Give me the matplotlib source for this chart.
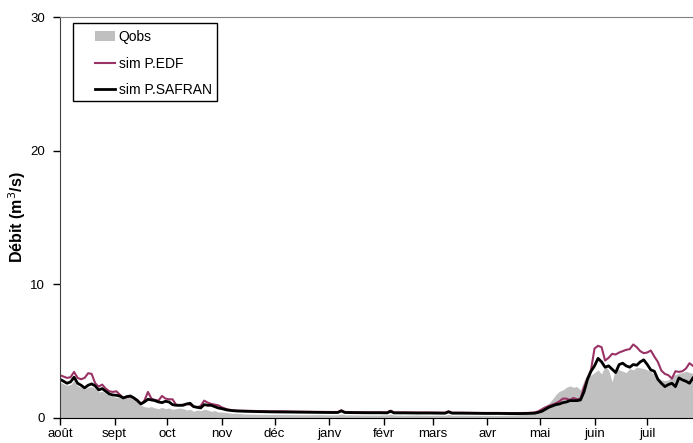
import numpy as np
import matplotlib.pyplot as plt
from matplotlib.patches import Patch, Rectangle
from matplotlib.lines import Line2D

plt.rcParams['font.family'] = ['Liberation Sans', 'DejaVu Sans']

# days counted from 1 August
days = [0, 2, 4, 6, 8, 10, 12, 14, 16, 18, 20, 22, 24, 26, 28, 30, 32, 34, 36, 38,
        40, 42, 44, 46, 48, 50, 52, 54, 56, 58, 60, 62, 64, 66, 68, 70, 72, 74, 76, 78,
        80, 82, 84, 86, 88, 90, 92, 95, 98, 101, 105,
        112, 119, 126, 133, 140, 147, 154, 158, 160, 162, 168, 175, 182, 186, 188, 190,
        196, 203, 210, 217, 219, 221, 223, 228, 235, 242, 249, 256, 262, 266, 270,
        272, 274, 276, 278, 280, 282, 284, 286, 288, 290, 292, 294, 296, 298, 300, 302,
        304, 306, 308, 310, 312, 314, 316, 318, 320, 322, 324, 326, 328, 330, 332, 334,
        336, 338, 340, 342, 344, 346, 348, 350, 352, 354, 356, 358, 360]

qobs = [2.7, 2.55, 2.45, 2.5, 2.8, 2.4, 2.3, 2.15, 2.3, 2.35, 2.2, 1.95, 2.0, 1.85, 1.7, 1.6, 1.55, 1.6, 1.45, 1.5,
        1.55, 1.4, 1.2, 0.95, 0.85, 0.8, 0.85, 0.75, 0.7, 0.8, 0.7, 0.75, 0.65, 0.7, 0.75, 0.7, 0.6, 0.65, 0.5, 0.6,
        0.55, 0.65, 0.6, 0.5, 0.55, 0.45, 0.45, 0.4, 0.35, 0.35, 0.3,
        0.28, 0.26, 0.27, 0.25, 0.24, 0.25, 0.23, 0.24, 0.3, 0.24, 0.23, 0.22, 0.22, 0.23, 0.28, 0.22,
        0.21, 0.22, 0.2, 0.21, 0.2, 0.26, 0.2, 0.21, 0.2, 0.2, 0.19, 0.22, 0.25, 0.3, 0.4,
        0.45, 0.6, 0.9, 1.1, 1.4, 1.75, 2.0, 2.1, 2.3, 2.4, 2.3, 2.35, 2.1, 2.8, 3.3, 3.2,
        3.4, 3.6, 3.3, 3.9, 3.6, 2.7, 3.8, 3.6, 3.5, 3.4, 3.7, 3.6, 3.8, 3.75, 3.7, 3.6,
        3.5, 3.2, 3.0, 2.85, 2.8, 2.85, 3.1, 3.25, 3.35, 3.4, 3.5, 3.4, 3.35]

sim_edf = [3.2, 3.1, 3.0, 3.05, 3.45, 3.0, 2.9, 3.0, 3.35, 3.3, 2.6, 2.35, 2.5, 2.2, 2.0, 1.95, 2.0, 1.75, 1.5, 1.55,
           1.6, 1.5, 1.35, 1.05, 1.3, 1.95, 1.45, 1.35, 1.3, 1.65, 1.45, 1.4, 1.4, 1.0, 0.95, 1.0, 1.05, 1.0, 0.85, 0.8,
           0.9, 1.3, 1.15, 1.05, 1.0, 0.95, 0.8, 0.65, 0.58, 0.55, 0.55,
           0.52, 0.5, 0.5, 0.48, 0.47, 0.46, 0.45, 0.45, 0.58, 0.45, 0.44, 0.43, 0.43, 0.42, 0.55, 0.42,
           0.42, 0.41, 0.41, 0.4, 0.4, 0.5, 0.4, 0.4, 0.39, 0.38, 0.38, 0.37, 0.37, 0.38, 0.42,
           0.5, 0.65, 0.8, 0.9, 1.0, 1.1, 1.25, 1.45, 1.45, 1.35, 1.5, 1.4, 1.45, 2.3, 2.95, 3.6,
           5.2, 5.4, 5.3, 4.3, 4.5, 4.8, 4.75, 4.9, 5.0, 5.1, 5.15, 5.5, 5.3, 5.0, 4.85, 4.9,
           5.05, 4.6, 4.2, 3.55, 3.3, 3.2, 2.95, 3.5, 3.45, 3.5, 3.7, 4.1, 3.9]

sim_safran = [2.9, 2.75, 2.6, 2.7, 3.05, 2.6, 2.45, 2.25, 2.45, 2.55, 2.4, 2.1, 2.2, 2.0, 1.8, 1.72, 1.7, 1.65, 1.5, 1.6,
              1.65, 1.5, 1.3, 1.05, 1.2, 1.4, 1.35, 1.3, 1.2, 1.15, 1.25, 1.2, 1.0, 0.95, 0.95, 0.95, 1.05, 1.1, 0.85, 0.8,
              0.75, 1.0, 0.95, 0.95, 0.85, 0.75, 0.7, 0.6, 0.55, 0.52, 0.5,
              0.48, 0.46, 0.45, 0.44, 0.43, 0.42, 0.41, 0.41, 0.53, 0.41, 0.4, 0.39, 0.39, 0.38, 0.5, 0.38,
              0.38, 0.37, 0.37, 0.36, 0.36, 0.46, 0.36, 0.36, 0.35, 0.34, 0.34, 0.33, 0.33, 0.34, 0.36,
              0.42, 0.5, 0.65, 0.8, 0.9, 1.0, 1.05, 1.15, 1.2, 1.3, 1.3, 1.3, 1.35, 1.95, 2.9, 3.5,
              3.9, 4.46, 4.2, 3.8, 3.9, 3.65, 3.4, 4.0, 4.1, 3.9, 3.8, 4.0, 3.95, 4.2, 4.35, 4.0,
              3.6, 3.5, 2.9, 2.6, 2.35, 2.5, 2.6, 2.35, 3.0, 2.85, 2.75, 2.6, 3.0]

month_starts = [0, 31, 61, 92, 122, 153, 184, 212, 243, 273, 304, 334]
month_labels = ['août', 'sept', 'oct', 'nov', 'déc', 'janv', 'févr', 'mars', 'avr', 'mai', 'juin', 'juil']

fig = plt.figure(figsize=(6.93, 4.43), dpi=100)
ax = fig.add_axes([60 / 693, 25 / 443, 633 / 693, 401 / 443])

ax.fill_between(days, 0, qobs, color='#c0c0c0', linewidth=0)
ax.plot(days, sim_edf, color='#993366', linewidth=1.5)
ax.plot(days, sim_safran, color='black', linewidth=2)

ax.set_xlim(0, 360)
ax.set_ylim(0, 30)
ax.set_yticks([0, 10, 20, 30])
ax.set_xticks(month_starts)
ax.set_xticklabels(month_labels)
ax.tick_params(axis='both', labelsize=9.5, direction='out', length=5, width=1, colors='black')
ax.tick_params(axis='x', pad=2)
ax.tick_params(axis='y', pad=6)

ax.spines['right'].set_visible(False)
ax.spines['top'].set_color('#808080')
ax.spines['left'].set_color('#404040')
ax.spines['bottom'].set_color('black')

ax.set_ylabel('Débit (m$^3$/s)', fontsize=11.5, fontweight='bold')
ax.yaxis.set_label_coords(-0.051, 0.5)

# legend box
fig.patches.append(Rectangle((73 / 693, 1 - 101 / 443), 144 / 693, 78 / 443,
                             transform=fig.transFigure, facecolor='white',
                             edgecolor='black', linewidth=1, zorder=5))
handles = [Patch(facecolor='#c0c0c0', edgecolor='none'),
           Line2D([], [], color='#993366', linewidth=1.5),
           Line2D([], [], color='black', linewidth=2)]
leg = fig.legend(handles, ['Qobs', 'sim P.EDF', 'sim P.SAFRAN'], loc='upper left',
                 bbox_to_anchor=(95 / 693, 1 - 30 / 443), fontsize=10, frameon=False,
                 handlelength=1.45, handletextpad=0.25, labelspacing=0.9, borderpad=0,
                 borderaxespad=0)
leg.set_zorder(6)

fig.savefig('out.png', dpi=100)
